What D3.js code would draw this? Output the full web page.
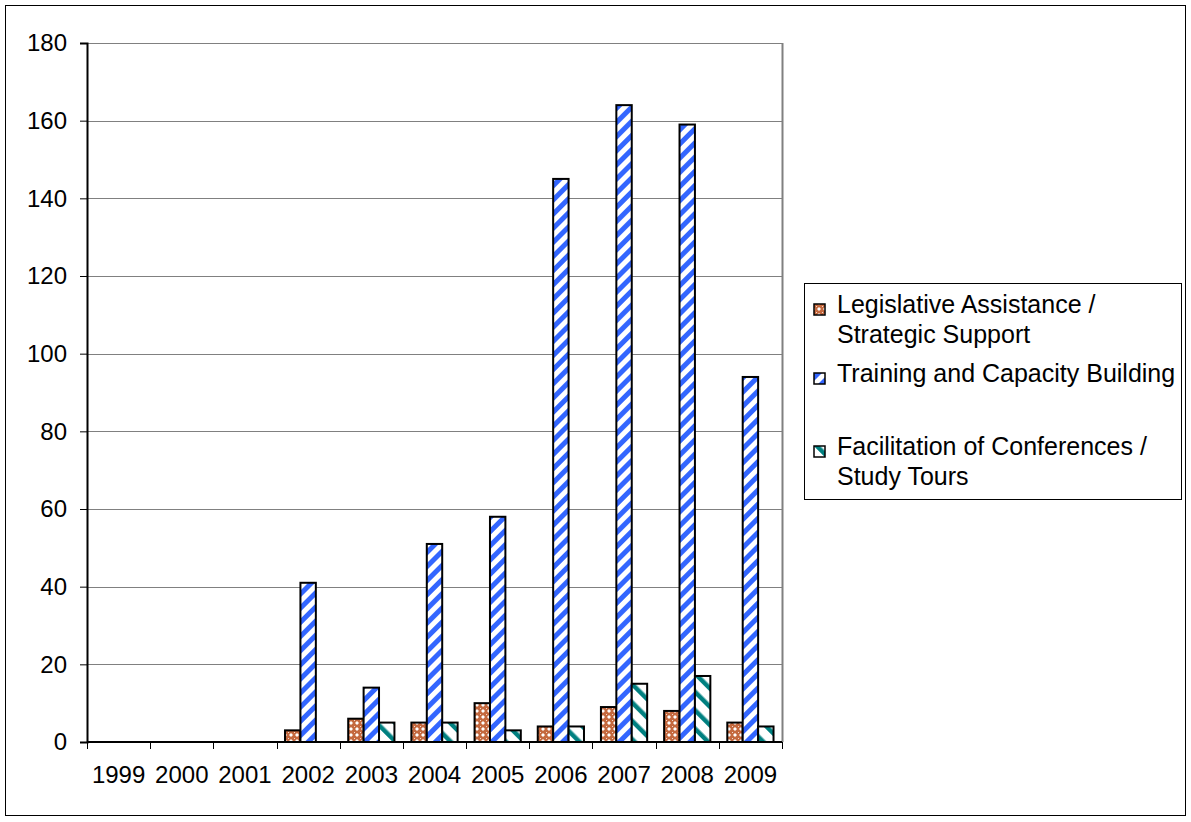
<!DOCTYPE html>
<html>
<head>
  <title>Activities by year</title>
  <script src="https://d3js.org/d3.v7.min.js"></script>
  <style>
    body { margin: 0; background: #fff; }
    text { font-family: "Liberation Sans", Arial, sans-serif; fill: #000; }
  </style>
</head>
<body>
  <div id="chart"></div>
  <script>
    // Data
    const years = ["1999", "2000", "2001", "2002", "2003", "2004", "2005", "2006", "2007", "2008", "2009"];
    const legislative = [0, 0, 0, 3, 6, 5, 10, 4, 9, 8, 5];
    const training = [0, 0, 0, 41, 14, 51, 58, 145, 164, 159, 94];
    const facilitation = [0, 0, 0, 0, 5, 5, 3, 4, 15, 17, 4];
    const seriesNames = [
      ["Legislative Assistance /", "Strategic Support"],
      ["Training and Capacity Building"],
      ["Facilitation of Conferences /", "Study Tours"]
    ];
    const yTicks = [0, 20, 40, 60, 80, 100, 120, 140, 160, 180];

    const width = 1191, height = 822;
    const plot = { left: 87, right: 782, top: 43, bottom: 742 };
    const fontSize = "24px";

    const svg = d3.select("#chart").append("svg")
      .attr("width", width)
      .attr("height", height);

    // fill patterns
    const defs = svg.append("defs");
    const p1 = defs.append("pattern").attr("id", "pat0")
      .attr("patternUnits", "userSpaceOnUse").attr("width", 6).attr("height", 6);
    p1.append("rect").attr("width", 6).attr("height", 6).attr("fill", "#c4693f");
    p1.append("path").attr("d", "M3,1 L5,3 L3,5 L1,3 Z").attr("fill", "#fff");
    p1.append("rect").attr("x", 0).attr("y", 0).attr("width", 1).attr("height", 1).attr("fill", "#f2d8cc");

    const p2 = defs.append("pattern").attr("id", "pat1")
      .attr("patternUnits", "userSpaceOnUse").attr("width", 10).attr("height", 10)
      .attr("patternTransform", "rotate(45)");
    p2.append("rect").attr("width", 10).attr("height", 10).attr("fill", "#fff");
    p2.append("rect").attr("width", 5).attr("height", 10).attr("fill", "#3366ff");

    const p3 = defs.append("pattern").attr("id", "pat2")
      .attr("patternUnits", "userSpaceOnUse").attr("width", 13).attr("height", 13)
      .attr("patternTransform", "rotate(-45)");
    p3.append("rect").attr("width", 13).attr("height", 13).attr("fill", "#fff");
    p3.append("rect").attr("width", 4.5).attr("height", 13).attr("fill", "#008080");

    // outer frame
    svg.append("rect")
      .attr("x", 5.5).attr("y", 5.5)
      .attr("width", 1180).attr("height", 810)
      .attr("fill", "none").attr("stroke", "#000");

    const x = d3.scaleBand().domain(years).range([plot.left, plot.right]);
    const y = d3.scaleLinear().domain([0, 180]).range([plot.bottom, plot.top]);
    const xInner = d3.scaleBand().domain([0, 1, 2])
      .range([0, x.bandwidth()]).paddingOuter(0.55).paddingInner(0);

    // gridlines
    svg.append("g").selectAll("line")
      .data(yTicks.filter(d => d > 0))
      .join("line")
      .attr("x1", plot.left).attr("x2", plot.right)
      .attr("y1", d => Math.round(y(d)) + 0.5).attr("y2", d => Math.round(y(d)) + 0.5)
      .attr("stroke", "#808080").attr("stroke-width", 1);

    // right border of plot area
    svg.append("line")
      .attr("x1", plot.right + 0.5).attr("x2", plot.right + 0.5)
      .attr("y1", plot.top).attr("y2", plot.bottom)
      .attr("stroke", "#808080").attr("stroke-width", 2);

    // bars
    const allSeries = [legislative, training, facilitation];
    allSeries.forEach((vals, si) => {
      svg.append("g").selectAll("rect")
        .data(years.map((yr, i) => ({ yr, v: vals[i] })).filter(d => d.v > 0))
        .join("rect")
        .attr("x", d => x(d.yr) + xInner(si))
        .attr("y", d => y(d.v))
        .attr("width", xInner.bandwidth())
        .attr("height", d => y(0) - y(d.v))
        .attr("fill", `url(#pat${si})`)
        .attr("stroke", "#000")
        .attr("stroke-width", 2);
    });

    // y axis
    const yAxis = svg.append("g")
      .attr("transform", `translate(${plot.left},0)`)
      .call(d3.axisLeft(y).tickValues(yTicks).tickSize(7).tickPadding(13));
    yAxis.select(".domain").attr("stroke", "#000").attr("stroke-width", 2);
    yAxis.selectAll(".tick line").attr("stroke", "#000").attr("stroke-width", 1);
    yAxis.selectAll("text").style("font-size", fontSize)
      .attr("font-family", "Liberation Sans, Arial, sans-serif");

    // x axis
    const xAxis = svg.append("g")
      .attr("transform", `translate(0,${plot.bottom})`)
      .call(d3.axisBottom(x).tickSize(0).tickPadding(24));
    xAxis.select(".domain").remove();
    xAxis.selectAll("text").style("font-size", fontSize)
      .attr("font-family", "Liberation Sans, Arial, sans-serif");
    svg.append("line")
      .attr("x1", plot.left).attr("x2", plot.right)
      .attr("y1", plot.bottom).attr("y2", plot.bottom)
      .attr("stroke", "#000").attr("stroke-width", 2);
    svg.append("g").selectAll("line")
      .data(years.concat(["end"]))
      .join("line")
      .attr("x1", (d, i) => Math.round(plot.left + i * x.step()) + 0.5)
      .attr("x2", (d, i) => Math.round(plot.left + i * x.step()) + 0.5)
      .attr("y1", plot.bottom).attr("y2", plot.bottom + 7)
      .attr("stroke", "#000");

    // legend
    const legend = svg.append("g");
    legend.append("rect")
      .attr("x", 804.5).attr("y", 283.5)
      .attr("width", 377).attr("height", 216)
      .attr("fill", "#fff").attr("stroke", "#000");
    const legendY = [313, 382, 455];
    seriesNames.forEach((lines, i) => {
      legend.append("rect")
        .attr("x", 814).attr("y", legendY[i] - 9)
        .attr("width", 11).attr("height", 11)
        .attr("fill", `url(#pat${i})`)
        .attr("stroke", "#000").attr("stroke-width", 1.5);
      lines.forEach((t, j) => {
        legend.append("text")
          .attr("x", 837).attr("y", legendY[i] + j * 30)
          .style("font-size", "25px")
          .text(t);
      });
    });
  </script>
</body>
</html>
